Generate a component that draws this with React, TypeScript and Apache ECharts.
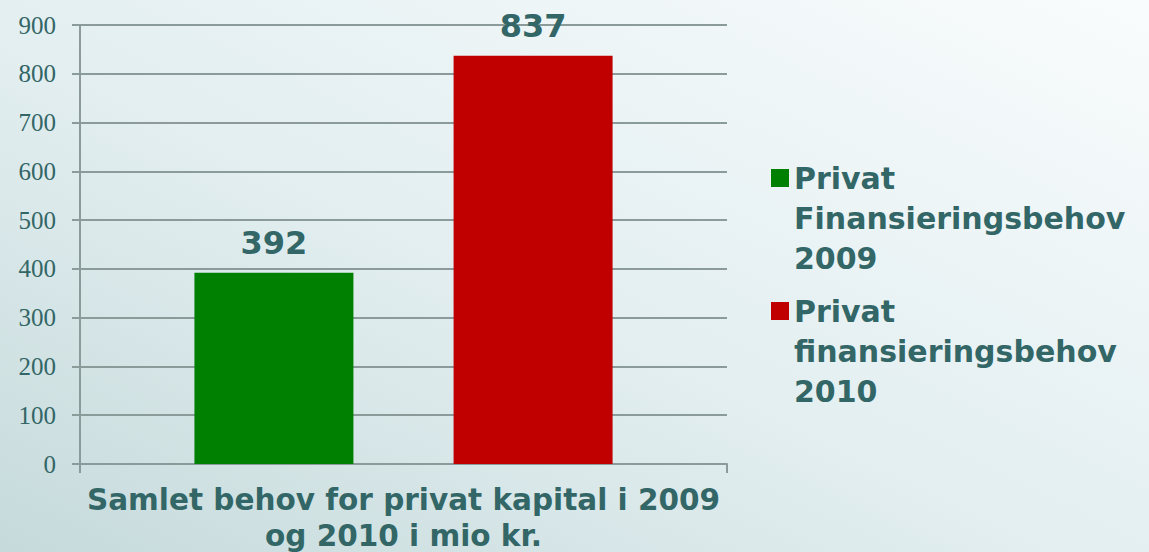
import React, { useEffect, useRef } from "react";
import * as echarts from "echarts";

const categories = ["Samlet behov for privat kapital i 2009\nog 2010 i mio kr."];
const seriesNames = ["Privat Finansieringsbehov 2009", "Privat finansieringsbehov 2010"];
const values2009 = [392];
const values2010 = [837];
const yMin = 0;
const yMax = 900;
const yInterval = 100;

const TEXT = "#336666";
const AXIS = "#8b9b9a";
const FONT = "'DejaVu Sans', Verdana, sans-serif";

export default function App() {
  const ref = useRef<HTMLDivElement>(null);
  useEffect(() => {
    document.body.style.margin = "0";
    const chart = echarts.init(ref.current!, null, { renderer: "svg" });
    const legendText = {
      color: TEXT,
      fontFamily: FONT,
      fontWeight: "bold" as const,
      fontSize: 30,
      lineHeight: 40,
    };
    // two leading blank lines keep the icon level with the first text line
    const legendFormatter = (n: string) => "\n\n" + n.replace(/ /g, "\n");
    chart.setOption({
      animation: false,
      backgroundColor: new echarts.graphic.LinearGradient(0, 1, 1, 0, [
        { offset: 0, color: "#c6dadb" },
        { offset: 0.45, color: "#e2eef0" },
        { offset: 1, color: "#f9fcfd" },
      ]),
      grid: {
        left: 80,
        right: 422,
        top: 25,
        bottom: 88,
        containLabel: false,
        outerBoundsMode: "none",
      },
      legend: [
        {
          data: [seriesNames[0]],
          left: 771,
          top: 78,
          padding: 0,
          itemWidth: 18,
          itemHeight: 18,
          icon: "rect",
          formatter: legendFormatter,
          textStyle: legendText,
          selectedMode: false,
        },
        {
          data: [seriesNames[1]],
          left: 771,
          top: 211,
          padding: 0,
          itemWidth: 18,
          itemHeight: 18,
          icon: "rect",
          formatter: legendFormatter,
          textStyle: legendText,
          selectedMode: false,
        },
      ],
      xAxis: {
        type: "category",
        data: categories,
        axisLine: { lineStyle: { color: AXIS, width: 2 } },
        axisTick: { show: true, length: 9, lineStyle: { color: AXIS, width: 2 } },
        axisLabel: {
          color: TEXT,
          fontFamily: FONT,
          fontWeight: "bold",
          fontSize: 29.5,
          lineHeight: 36,
          margin: 18,
        },
      },
      yAxis: {
        type: "value",
        min: yMin,
        max: yMax,
        interval: yInterval,
        axisLine: { show: true, lineStyle: { color: AXIS, width: 2 } },
        axisTick: { show: true, length: 8, lineStyle: { color: AXIS, width: 2 } },
        splitLine: { show: true, lineStyle: { color: AXIS, width: 2 } },
        axisLabel: {
          color: TEXT,
          fontFamily: "'Liberation Serif', 'Times New Roman', serif",
          fontSize: 25,
          margin: 24,
        },
      },
      series: [
        {
          name: seriesNames[0],
          type: "bar",
          data: values2009,
          barWidth: 159,
          barGap: "63%",
          itemStyle: { color: "#008000" },
          label: {
            show: true,
            position: "top",
            distance: 14,
            color: TEXT,
            fontFamily: FONT,
            fontWeight: "bold",
            fontSize: 32,
          },
        },
        {
          name: seriesNames[1],
          type: "bar",
          data: values2010,
          barWidth: 159,
          itemStyle: { color: "#c00000" },
          label: {
            show: true,
            position: "top",
            distance: 14,
            color: TEXT,
            fontFamily: FONT,
            fontWeight: "bold",
            fontSize: 32,
          },
        },
      ],
    });
    return () => chart.dispose();
  }, []);
  return <div ref={ref} style={{ width: 1149, height: 552 }} />;
}
